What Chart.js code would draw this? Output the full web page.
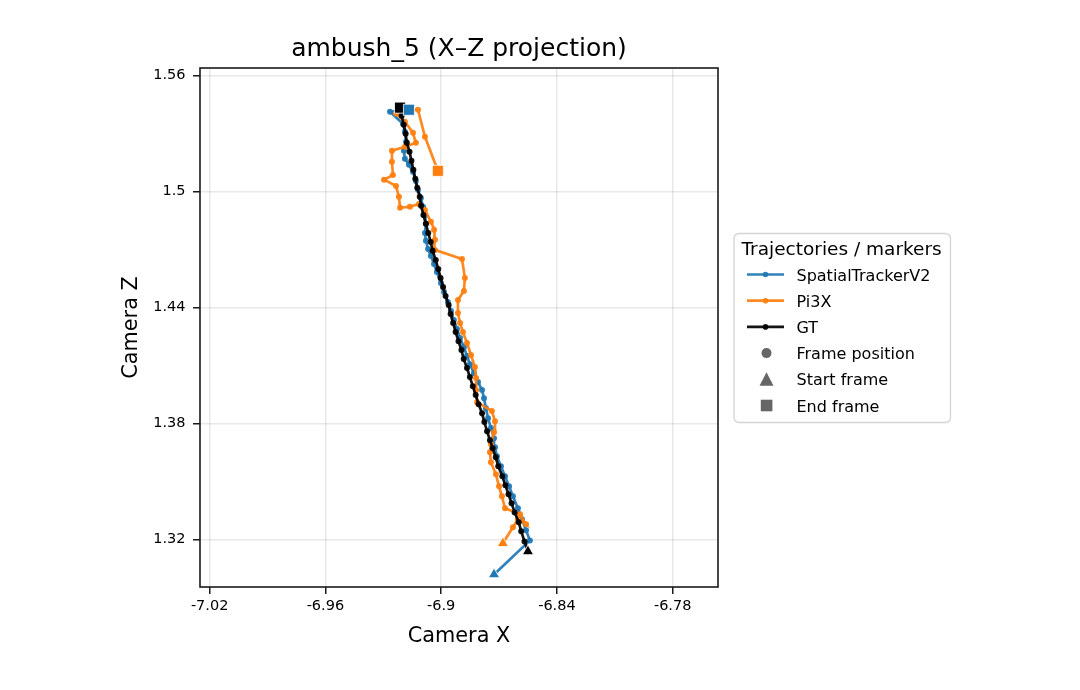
<!DOCTYPE html>
<html><head><meta charset="utf-8">
<script src="https://cdn.jsdelivr.net/npm/chart.js@4.4.0/dist/chart.umd.min.js"></script>
<style>html,body{margin:0;padding:0;background:#fff}canvas{display:block}</style>
</head><body>
<canvas id="c" width="1080" height="690" style="width:1080px;height:690px"></canvas>
<script>
const chartTitle = 'ambush_5 (X–Z projection)';
const xAxisTitle = 'Camera X';
const yAxisTitle = 'Camera Z';
const legendTitle = 'Trajectories / markers';
const seriesNames = ['SpatialTrackerV2', 'Pi3X', 'GT'];
const markerNames = ['Frame position', 'Start frame', 'End frame'];
const xTicks = [-7.02, -6.96, -6.9, -6.84, -6.78];
const xTickLabels = ['-7.02', '-6.96', '-6.9', '-6.84', '-6.78'];
const yTicks = [1.32, 1.38, 1.44, 1.5, 1.56];
const yTickLabels = ['1.32', '1.38', '1.44', '1.5', '1.56'];

const stX = [-6.8726,-6.8540,-6.8560,-6.8581,-6.8602,-6.8628,-6.8648,-6.8669,-6.8690,-6.8711,-6.8721,-6.8726,-6.8742,-6.8757,-6.8768,-6.8778,-6.8788,-6.8809,-6.8830,-6.8851,-6.8866,-6.8882,-6.8902,-6.8918,-6.8934,-6.8949,-6.8965,-6.8985,-6.9001,-6.9022,-6.9037,-6.9053,-6.9068,-6.9079,-6.9084,-6.9079,-6.9084,-6.9094,-6.9105,-6.9120,-6.9131,-6.9146,-6.9167,-6.9188,-6.9193,-6.9182,-6.9188,-6.9198,-6.9265,-6.9167];
const stZ = [1.3018,1.3194,1.3246,1.3303,1.3360,1.3422,1.3474,1.3526,1.3578,1.3630,1.3676,1.3723,1.3775,1.3826,1.3878,1.3930,1.3972,1.4013,1.4060,1.4106,1.4148,1.4194,1.4241,1.4288,1.4334,1.4381,1.4427,1.4479,1.4526,1.4583,1.4624,1.4666,1.4702,1.4744,1.4785,1.4832,1.4873,1.4920,1.4966,1.5008,1.5054,1.5101,1.5137,1.5168,1.5210,1.5256,1.5308,1.5350,1.5412,1.5422];

const piX = [-6.8680,-6.8628,-6.8602,-6.8560,-6.8591,-6.8669,-6.8685,-6.8700,-6.8716,-6.8742,-6.8747,-6.8742,-6.8726,-6.8721,-6.8737,-6.8814,-6.8819,-6.8819,-6.8825,-6.8845,-6.8866,-6.8887,-6.8902,-6.8913,-6.8913,-6.8882,-6.8877,-6.8892,-6.9032,-6.9032,-6.9037,-6.9053,-6.9084,-6.9115,-6.9162,-6.9213,-6.9219,-6.9234,-6.9296,-6.9250,-6.9255,-6.9255,-6.9188,-6.9131,-6.9146,-6.9188,-6.9234,-6.9172,-6.9120,-6.9084,-6.9017];
const piZ = [1.3179,1.3262,1.3303,1.3277,1.3329,1.3360,1.3422,1.3474,1.3536,1.3598,1.3650,1.3692,1.3754,1.3811,1.3863,1.3909,1.3972,1.4034,1.4091,1.4153,1.4215,1.4272,1.4319,1.4370,1.4438,1.4484,1.4552,1.4650,1.4697,1.4749,1.4801,1.4842,1.4904,1.4935,1.4920,1.4915,1.4972,1.5028,1.5060,1.5085,1.5153,1.5210,1.5231,1.5251,1.5303,1.5360,1.5402,1.5422,1.5422,1.5282,1.5106];

const gtX = [-6.8550,-6.8568,-6.8585,-6.8598,-6.8619,-6.8635,-6.8651,-6.8667,-6.8683,-6.8704,-6.8717,-6.8733,-6.8747,-6.8762,-6.8776,-6.8788,-6.8806,-6.8821,-6.8836,-6.8851,-6.8866,-6.8883,-6.8895,-6.8910,-6.8925,-6.8938,-6.8951,-6.8961,-6.8977,-6.8990,-6.9003,-6.9015,-6.9028,-6.9044,-6.9054,-6.9067,-6.9079,-6.9092,-6.9104,-6.9111,-6.9124,-6.9134,-6.9144,-6.9154,-6.9164,-6.9178,-6.9184,-6.9194,-6.9205,-6.9213];
const gtZ = [1.3137,1.3189,1.3241,1.3288,1.3339,1.3386,1.3433,1.3479,1.3526,1.3578,1.3624,1.3671,1.3712,1.3759,1.3806,1.3852,1.3899,1.3946,1.3992,1.4039,1.4086,1.4132,1.4179,1.4225,1.4272,1.4319,1.4365,1.4412,1.4459,1.4505,1.4552,1.4598,1.4645,1.4692,1.4738,1.4785,1.4832,1.4878,1.4925,1.4972,1.5018,1.5065,1.5111,1.5158,1.5205,1.5251,1.5298,1.5345,1.5391,1.5433];

const xRange = [-7.025, -6.7565];
const yRange = [1.2953, 1.5638];

const colors = ['rgba(31,119,180,0.92)', 'rgba(255,127,14,0.92)', 'rgba(0,0,0,0.92)'];
const solid = ['#1f77b4', '#ff7f0e', '#000000'];
const FONT = "'DejaVu Sans', sans-serif";

const series = [[stX, stZ], [piX, piZ], [gtX, gtZ]];
const toPts = (xs, zs) => xs.map((x, i) => ({x: x, y: zs[i]}));

const datasets = [];
series.forEach(([xs, zs], k) => {
  datasets.push({
    label: seriesNames[k], data: toPts(xs, zs), showLine: true,
    borderColor: colors[k], backgroundColor: colors[k],
    pointBackgroundColor: colors[k], pointBorderWidth: 0,
    borderWidth: 2.7, pointRadius: 3, pointHoverRadius: 3,
    tension: 0, order: 3 - k + 1
  });
});
series.forEach(([xs, zs], k) => {
  datasets.push({
    label: 'start', data: [{x: xs[0], y: zs[0]}], showLine: false,
    pointStyle: 'triangle', pointRadius: 6.4, pointHoverRadius: 6.4,
    pointBackgroundColor: solid[k], pointBorderColor: '#ffffff', pointBorderWidth: 0.8, order: 0
  });
  datasets.push({
    label: 'end', data: [{x: xs[xs.length - 1], y: zs[zs.length - 1]}], showLine: false,
    pointStyle: 'rect', pointRadius: 7.8, pointHoverRadius: 7.8,
    pointBackgroundColor: solid[k], pointBorderColor: '#ffffff', pointBorderWidth: 0.8, order: 0
  });
});

const decor = {
  id: 'decor',
  afterDraw(chart) {
    const ctx = chart.ctx, ca = chart.chartArea;
    ctx.save();
    ctx.strokeStyle = '#1a1a1a'; ctx.lineWidth = 1.6;
    ctx.strokeRect(ca.left, ca.top, ca.right - ca.left, ca.bottom - ca.top);
    ctx.fillStyle = '#000';
    ctx.textAlign = 'center'; ctx.textBaseline = 'alphabetic';
    ctx.font = '25px ' + FONT;
    ctx.fillText(chartTitle, (ca.left + ca.right) / 2, 56);
    ctx.font = '20.8px ' + FONT;
    ctx.fillText(xAxisTitle, (ca.left + ca.right) / 2, 642);
    ctx.save();
    ctx.translate(137, (ca.top + ca.bottom) / 2);
    ctx.rotate(-Math.PI / 2);
    ctx.fillText(yAxisTitle, 0, 0);
    ctx.restore();
    const bx = 734, by = 233.5, bw = 216.5, bh = 189, r = 5;
    ctx.beginPath();
    ctx.moveTo(bx + r, by); ctx.lineTo(bx + bw - r, by); ctx.arcTo(bx + bw, by, bx + bw, by + r, r);
    ctx.lineTo(bx + bw, by + bh - r); ctx.arcTo(bx + bw, by + bh, bx + bw - r, by + bh, r);
    ctx.lineTo(bx + r, by + bh); ctx.arcTo(bx, by + bh, bx, by + bh - r, r);
    ctx.lineTo(bx, by + r); ctx.arcTo(bx, by, bx + r, by, r); ctx.closePath();
    ctx.fillStyle = 'rgba(255,255,255,0.85)'; ctx.fill();
    ctx.strokeStyle = '#d3d3d3'; ctx.lineWidth = 1.3; ctx.stroke();
    ctx.fillStyle = '#000'; ctx.textAlign = 'left';
    ctx.font = '18.5px ' + FONT;
    ctx.fillText(legendTitle, 741.5, 255);
    ctx.font = '16px ' + FONT;
    const rows = [274.5, 300.7, 326.9, 353.1, 379.3, 405.5];
    for (let k = 0; k < 3; k++) {
      const y = rows[k];
      ctx.strokeStyle = colors[k]; ctx.lineWidth = 2.7;
      ctx.beginPath(); ctx.moveTo(747, y); ctx.lineTo(784, y); ctx.stroke();
      ctx.fillStyle = colors[k];
      ctx.beginPath(); ctx.arc(765.5, y, 2.8, 0, Math.PI * 2); ctx.fill();
      ctx.fillStyle = '#000';
      ctx.fillText(seriesNames[k], 796.5, y + 6);
    }
    ctx.fillStyle = '#666666';
    let y = rows[3];
    ctx.beginPath(); ctx.arc(766.5, y, 5, 0, Math.PI * 2); ctx.fill();
    y = rows[4];
    ctx.beginPath(); ctx.moveTo(766.5, y - 7); ctx.lineTo(773.5, y + 6.5); ctx.lineTo(759.5, y + 6.5); ctx.closePath(); ctx.fill();
    y = rows[5];
    ctx.fillRect(760.8, y - 5.8, 11.6, 11.6);
    ctx.fillStyle = '#000';
    for (let k = 0; k < 3; k++) ctx.fillText(markerNames[k], 796.5, rows[3 + k] + 6);
    ctx.restore();
  }
};

const tickFont = {family: FONT, size: 14.5};
new Chart(document.getElementById('c'), {
  type: 'scatter',
  data: {datasets: datasets},
  options: {
    responsive: false, devicePixelRatio: 1, animation: false,
    layout: {padding: {left: 150, right: 362, top: 68, bottom: 63}},
    plugins: {legend: {display: false}, tooltip: {enabled: false}, title: {display: false}},
    scales: {
      x: {
        type: 'linear', min: xRange[0], max: xRange[1],
        afterBuildTicks: s => { s.ticks = xTicks.map(v => ({value: v})); },
        afterFit: s => { s.height = 40; },
        ticks: {font: tickFont, color: '#000', padding: 3.5, maxRotation: 0,
          callback: (v, i) => xTickLabels[i]},
        grid: {color: 'rgba(0,0,0,0.09)', lineWidth: 1.5, tickColor: '#1a1a1a', tickLength: 7, tickWidth: 1.5},
        border: {display: false}
      },
      y: {
        type: 'linear', min: yRange[0], max: yRange[1],
        afterBuildTicks: s => { s.ticks = yTicks.map(v => ({value: v})); },
        afterFit: s => { s.width = 50; },
        ticks: {font: tickFont, color: '#000', padding: 7.5,
          callback: (v, i) => yTickLabels[i]},
        grid: {color: 'rgba(0,0,0,0.09)', lineWidth: 1.5, tickColor: '#1a1a1a', tickLength: 7, tickWidth: 1.5},
        border: {display: false}
      }
    }
  },
  plugins: [decor]
});
</script>
</body></html>
